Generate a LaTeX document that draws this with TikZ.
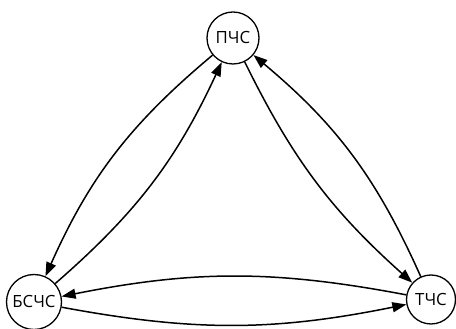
\documentclass[tikz,border=0pt]{standalone}
\usepackage{fontspec}
\setmainfont{Open Sans}
\usetikzlibrary{arrows.meta}
\begin{document}
\begin{tikzpicture}[x=1pt,y=1pt,
  state/.style={circle,draw,line width=1.3pt,inner sep=0pt,fill=white,
    font=\fontsize{16.8}{20}\selectfont},
  edge/.style={line width=1.5pt,-{Triangle[length=14pt,width=10pt]}}]
\useasboundingbox (0,0) rectangle (456,329);
\node[state,minimum size=52pt] (p) at (233,291) {ПЧС};
\node[state,minimum size=55pt] (b) at (34,27) {БСЧС};
\node[state,minimum size=49pt] (t) at (431,29.5) {ТЧС};
\draw[edge] (p) to[bend right=13] (b);
\draw[edge] (b) to[bend right=12] (p);
\draw[edge] (p) to[bend right=11] (t);
\draw[edge] (t) to[bend right=13] (p);
\draw[edge] (t) to[bend right=11] (b);
\draw[edge] (b) to[bend right=11] (t);
\end{tikzpicture}
\end{document}
